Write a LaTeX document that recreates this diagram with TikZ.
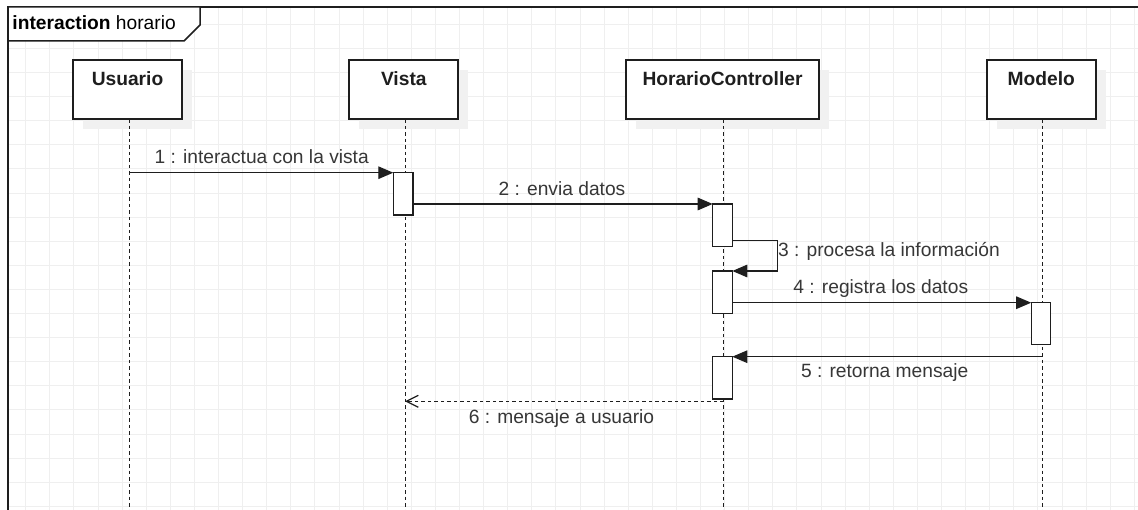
\documentclass[tikz,border=0pt]{standalone}
\usepackage{fontspec}
\setmainfont{Liberation Sans}
\usetikzlibrary{arrows.meta}
\definecolor{gridc}{RGB}{239,239,239}
\definecolor{linec}{RGB}{30,30,30}
\definecolor{textc}{RGB}{55,55,55}
\definecolor{shadowc}{RGB}{241,241,241}
\begin{document}
\begin{tikzpicture}[x=1pt,y=-1pt,
  gridline/.style={gridc, line width=1pt},
  framebox/.style={linec, line width=1.5pt},
  lifebox/.style={draw=linec, fill=white, line width=1.4pt, anchor=north west, inner sep=0pt, outer sep=0pt, minimum height=59pt},
  shadowbox/.style={fill=shadowc, draw=none, anchor=north west, inner sep=0pt, outer sep=0pt, minimum height=59pt},
  lifeline/.style={linec, line width=1pt, dash pattern=on 3.5pt off 3pt},
  actbox/.style={draw=linec, fill=white, line width=1.3pt, anchor=north west, inner sep=0pt, outer sep=0pt, minimum width=19.6pt},
  msg/.style={linec, line width=1.3pt, -{Triangle[length=15pt,width=12.5pt]}},
  reply/.style={linec, line width=1.3pt, dash pattern=on 3.5pt off 3pt, -{Straight Barb[length=12pt,width=12pt,line width=1.2pt]}},
  namelabel/.style={anchor=base, inner sep=0pt, text=linec, font=\fontsize{19.2}{22}\selectfont\bfseries},
  msglabel/.style={anchor=base, inner sep=0pt, text=textc, font=\fontsize{19.2}{22}\selectfont},
  titlelabel/.style={anchor=base west, inner sep=0pt, text=black, font=\fontsize{19.2}{22}\selectfont}
]
\useasboundingbox (0,0) rectangle (1138,510);
\fill[white] (0,0) rectangle (1138,510);
% grid
\foreach \i in {1,...,47} \draw[gridline] ({1.6+24.1*\i},7) -- ({1.6+24.1*\i},510);
\foreach \j in {1,...,21} \draw[gridline] (8,{0.3+24.1*\j}) -- (1138,{0.3+24.1*\j});
% frame
\coordinate (fbl) at (8,512);
\coordinate (ftl) at (8,7);
\coordinate (ftr) at (1140,7);
\draw[framebox] (fbl) -- (ftl) -- (ftr);
\coordinate (t1) at (200,7);
\coordinate (t2) at (200,25);
\coordinate (t3) at (184,41);
\coordinate (t4) at (8,41);
\filldraw[framebox, fill=white] (ftl) -- (t1) -- (t2) -- (t3) -- (t4) -- cycle;
\node[titlelabel] (title) at (12.3,30) {\textbf{interaction} horario};
% shadows
\node[shadowbox, minimum width=109pt] (su) at (83,70) {};
\node[shadowbox, minimum width=109pt] (sv) at (359,70) {};
\node[shadowbox, minimum width=193pt] (sh) at (636,70) {};
\node[shadowbox, minimum width=109pt] (sm) at (997,70) {};
% lifeline boxes
\node[lifebox, minimum width=109pt] (usuario) at (73,60) {};
\node[lifebox, minimum width=109pt] (vista) at (349,60) {};
\node[lifebox, minimum width=193pt] (hc) at (626,60) {};
\node[lifebox, minimum width=109pt] (modelo) at (987,60) {};
\node[namelabel] (usuarioT) at (127.5,86) {Usuario};
\node[namelabel] (vistaT) at (403.8,86) {Vista};
\node[namelabel] (hcT) at (722.5,86) {HorarioController};
\node[namelabel] (modeloT) at (1041.3,86) {Modelo};
% lifelines
\coordinate (ul) at (129.5,119.5);
\coordinate (ulb) at (129.5,512);
\coordinate (vl) at (405,119.5);
\coordinate (vlb) at (405,512);
\coordinate (hl) at (723.7,119.5);
\coordinate (hlb) at (723.7,512);
\coordinate (ml) at (1042.7,119.5);
\coordinate (mlb) at (1042.7,512);
\draw[lifeline] (ul) -- (ulb);
\draw[lifeline] (vl) -- (vlb);
\draw[lifeline] (hl) -- (hlb);
\draw[lifeline] (ml) -- (mlb);
% activations
\node[actbox, minimum height=42.3pt] (va) at (393.3,172.7) {};
\node[actbox, minimum height=42.7pt] (ha1) at (712.7,204) {};
\node[actbox, minimum height=42.3pt] (ha2) at (712.7,271) {};
\node[actbox, minimum height=41.6pt] (ma) at (1031.2,302.7) {};
\node[actbox, minimum height=42.3pt] (ha3) at (712.7,356.7) {};
% messages
\coordinate (y1) at (0,172.7);
\coordinate (y3) at (0,240.3);
\coordinate (y6) at (0,401.3);
\draw[msg] (ul |- y1) -- (va.north west);
\draw[msg] (va.east |- ha1.north west) -- (ha1.north west);
\draw[msg] (ha1.east |- y3) -- ++(45,0) |- (ha2.north east);
\draw[msg] (ha2.east |- ma.north west) -- (ma.north west);
\draw[msg] (ml |- ha3.north east) -- (ha3.north east);
\draw[reply] (hl |- y6) -- (vl |- y6);
% message labels
\node[msglabel] (l1) at (261.7,164) {1 : interactua con la vista};
\node[msglabel] (l2) at (562,196) {2 : envia datos};
\node[msglabel, anchor=base west] (l3) at (778,256.7) {3 : procesa la información};
\node[msglabel] (l4) at (880.8,293.3) {4 : registra los datos};
\node[msglabel] (l5) at (884.7,377.7) {5 : retorna mensaje};
\node[msglabel] (l6) at (561.5,423.3) {6 : mensaje a usuario};
\end{tikzpicture}
\end{document}
